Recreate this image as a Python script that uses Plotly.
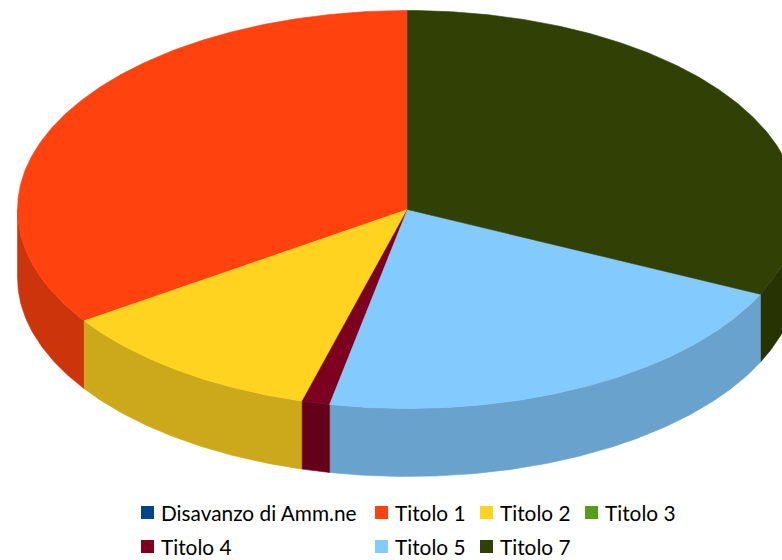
import math
import plotly.graph_objects as go

# Data (shares, percent)
names = ["Disavanzo di Amm.ne", "Titolo 1", "Titolo 2", "Titolo 3", "Titolo 4", "Titolo 5", "Titolo 7"]
values = [0, 34.45, 11.2, 0, 1.15, 21.2, 32.0]
colors = ["#004586", "#ff420e", "#ffd320", "#579d1c", "#7e0021", "#83caff", "#314004"]
side_colors = ["#003a70", "#cc350b", "#cca91a", "#468016", "#65001a", "#69a2cc", "#273303"]

# Geometry of the tilted pie, in page pixels
CX, CY, RX, RY, DEPTH = 407.5, 209.5, 390, 199, 68
W, H = 782, 560


def pt(a, dy=0):
    """a: degrees counter-clockwise from 12 o'clock."""
    r = math.radians(a)
    return CX - RX * math.sin(r), CY - RY * math.cos(r) + dy


def arc(a0, a1, dy=0, step=0.5):
    n = max(2, int(abs(a1 - a0) / step) + 1)
    return [pt(a0 + (a1 - a0) * i / (n - 1), dy) for i in range(n)]


total = sum(values)
angles = []
a = 0.0
for v in values:
    angles.append((a, a + v / total * 360))
    a += v / total * 360

fig = go.Figure()


def poly(points, color):
    xs = [p[0] for p in points] + [points[0][0]]
    ys = [p[1] for p in points] + [points[0][1]]
    fig.add_trace(go.Scatter(x=xs, y=ys, mode="lines", fill="toself", fillcolor=color,
                             line=dict(width=0.6, color=color), hoverinfo="skip", showlegend=False))


# Side walls: only the front half (90..270 degrees counter-clockwise from the top)
order = sorted(range(len(values)), key=lambda i: abs(sum(angles[i]) / 2 - 180), reverse=True)
for i in order:
    lo = max(angles[i][0], 90)
    hi = min(angles[i][1], 270)
    if hi > lo:
        top = arc(lo, hi)
        bottom = arc(hi, lo, DEPTH)
        poly(top + bottom, side_colors[i])

# Top faces
for i, (a0, a1) in enumerate(angles):
    if a1 > a0:
        poly([(CX, CY)] + arc(a0, a1), colors[i])

# Legend
col_x = [141, 375, 480, 585, 141, 375, 480]
row_y = [512.5, 512.5, 512.5, 512.5, 546.5, 546.5, 546.5]
shapes = []
annotations = []
for name, color, x, y in zip(names, colors, col_x, row_y):
    shapes.append(dict(type="rect", xref="x", yref="y", x0=x, x1=x + 13, y0=y - 6.5, y1=y + 6.5,
                       fillcolor=color, line=dict(width=0), layer="above"))
    annotations.append(dict(x=x + 17.5, y=y, xref="x", yref="y", text=name, showarrow=False,
                            xanchor="left", yanchor="middle",
                            font=dict(family="Lato", size=20.8, color="#000000")))

fig.update_layout(
    width=W, height=H, margin=dict(l=0, r=0, t=0, b=0), autosize=False,
    paper_bgcolor="#ffffff", plot_bgcolor="#ffffff", showlegend=False,
    xaxis=dict(range=[0, W], visible=False, fixedrange=True),
    yaxis=dict(range=[H, 0], visible=False, fixedrange=True),
    shapes=shapes, annotations=annotations,
)
fig.write_html("out.html", config={"displayModeBar": False},
               post_script="document.body.style.margin='0';document.documentElement.style.overflow='hidden';")
